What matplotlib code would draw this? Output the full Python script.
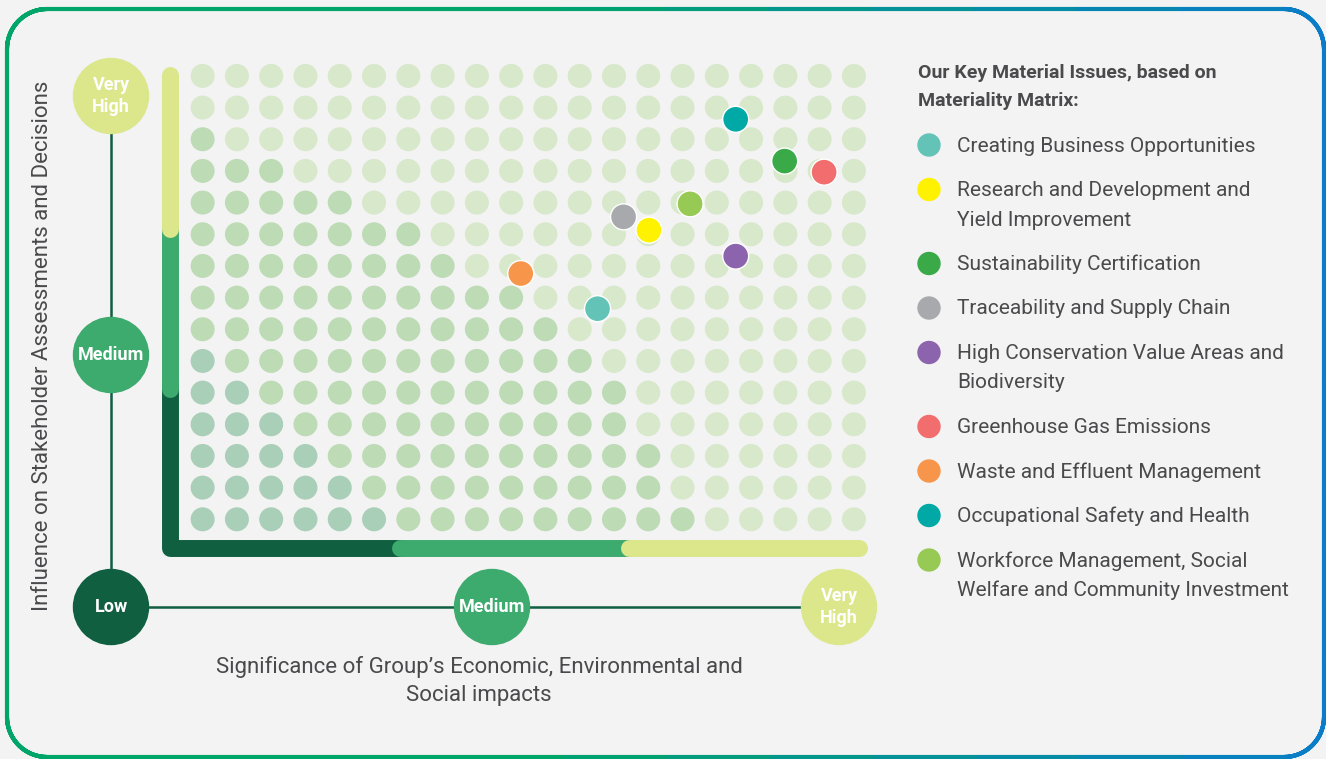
import numpy as np
import matplotlib
matplotlib.use('Agg')
import matplotlib.pyplot as plt
from matplotlib.patches import Circle
from matplotlib.collections import LineCollection
from matplotlib.colors import to_rgb

plt.rcParams['font.family'] = ['Roboto', 'DejaVu Sans']

# ---- data ----
# dot matrix: 20 columns x 15 rows, counts per row (top row first)
n_cols, n_rows = 20, 15
mid_counts  = [0, 0, 1, 3, 5, 7, 8, 10, 11, 12, 13, 13, 14, 14, 15]
dark_counts = [0, 0, 0, 0, 0, 0, 0, 0, 0, 1, 2, 3, 4, 5, 6]

issues = ['Creating Business Opportunities',
          'Research and Development and\nYield Improvement',
          'Sustainability Certification',
          'Traceability and Supply Chain',
          'High Conservation Value Areas and\nBiodiversity',
          'Greenhouse Gas Emissions',
          'Waste and Effluent Management',
          'Occupational Safety and Health',
          'Workforce Management, Social\nWelfare and Community Investment']
issue_colors = ['#62c3b6', '#fff200', '#3aaa48', '#a7a9ac', '#8c64ad',
                '#f26d6d', '#f7964a', '#00a9a5', '#97c955']
# significance (x, column units) and influence (y, row units from bottom)
significance = [11.52, 13.02, 16.98, 12.28, 15.55, 18.13, 9.28, 15.55, 14.22]
influence    = [6.65, 9.13, 11.31, 9.55, 8.31, 10.96, 7.76, 12.63, 9.96]

level_labels = ['Low', 'Medium', 'Very\nHigh']

# ---- colours ----
bg_col = '#f3f3f3'
txt = '#4a4a4c'
dark, mid, light = '#0f5f40', '#3daa6e', '#dce68b'
dot_light, dot_mid, dot_dark = '#d8e8cb', '#bddbb5', '#aacfb8'

W, H = 1326, 759
fig = plt.figure(figsize=(W / 100, H / 100), dpi=100)
fig.patch.set_facecolor(bg_col)

bg = fig.add_axes([0, 0, 1, 1])
bg.set_xlim(0, W)
bg.set_ylim(H, 0)
bg.axis('off')

# rounded frame with green -> blue gradient
def rounded_path(x0, y0, x1, y1, r):
    pts = []
    for cx, cy, a0 in [(x0 + r, y0 + r, 180), (x1 - r, y0 + r, 270),
                       (x1 - r, y1 - r, 0), (x0 + r, y1 - r, 90)]:
        t = np.radians(np.linspace(a0, a0 + 90, 20))
        pts += list(zip(cx + r * np.cos(t), cy + r * np.sin(t)))
    pts.append(pts[0])
    out = []
    for (xa, ya), (xb, yb) in zip(pts[:-1], pts[1:]):
        for s in np.linspace(0, 1, 12, endpoint=False):
            out.append((xa + (xb - xa) * s, ya + (yb - ya) * s))
    out.append(pts[0])
    return np.array(out)

p = rounded_path(7, 9, 1324, 757, 40)
segs, cols = [], []
g0, g1 = np.array(to_rgb('#00a56a')), np.array(to_rgb('#0a7cc9'))
for a, b in zip(p[:-1], p[1:]):
    mx_, my_ = (a + b) / 2
    if my_ > 750 and 648 < mx_ < 688:
        continue
    t = np.clip((mx_ - 550) / (W - 550), 0, 1)
    segs.append([a, b])
    cols.append((1 - t) * g0 + t * g1)
bg.add_collection(LineCollection(segs, colors=cols, linewidths=3.0, capstyle='round'))

# colored L bars
bw = 12.2
bg.plot([170, 170, 405], [380, 548, 548], color=dark, lw=bw,
        solid_joinstyle='round', solid_capstyle='butt')
bg.plot([170, 170], [225, 388.5], color=mid, lw=bw, solid_capstyle='round')
bg.plot([399.5, 630], [548, 548], color=mid, lw=bw, solid_capstyle='round')
bg.plot([170, 170], [74.5, 228.5], color=light, lw=bw, solid_capstyle='round')
bg.plot([628.5, 858.5], [548, 548], color=light, lw=bw, solid_capstyle='round')

# level scale lines and circles
bg.plot([111, 111], [96, 607], color=dark, lw=1.8, zorder=1)
bg.plot([111, 839], [607, 607], color=dark, lw=1.8, zorder=1)
level_cols = [dark, mid, light]
circle_pos = [[(111, 607)], [(111, 355), (492, 607)], [(111, 96), (839, 607)]]
for lab, c, pos in zip(level_labels, level_cols, circle_pos):
    for x, y in pos:
        bg.add_patch(Circle((x, y), 37.5, color=c, zorder=2))
        bg.text(x, y, lab, color='white', fontsize=13, fontweight='bold',
                ha='center', va='center', linespacing=1.35, zorder=3)

# axis titles
bg.text(43, 346, 'Influence on Stakeholder Assessments and Decisions',
        rotation=90, ha='center', va='center', fontsize=16, color=txt)
bg.text(479, 681, "Significance of Group\u2019s Economic, Environmental and\nSocial impacts",
        ha='center', va='center', fontsize=16, color=txt, linespacing=1.4)

# legend
bg.text(918, 73, 'Our Key Material Issues, based on', fontsize=14,
        fontweight='bold', color=txt, ha='left', va='center')
bg.text(918, 101, 'Materiality Matrix:', fontsize=14,
        fontweight='bold', color=txt, ha='left', va='center')
y = 146
for lab, c in zip(issues, issue_colors):
    bg.add_patch(Circle((929, y - 1), 11, color=c))
    for k, line in enumerate(lab.split('\n')):
        bg.text(957, y + 29.5 * k, line, fontsize=15, color=txt,
                ha='left', va='center')
    y += 44.5 + 29.5 * lab.count('\n')

# matrix axes (column / row units)
mx = fig.add_axes([161.5 / W, (H - 557.3) / H, 713 / W, 500.4 / H])
mx.set_xlim(-1.2, 19.6)
mx.set_ylim(-1.2, 14.6)
mx.axis('off')
mx.patch.set_alpha(0)

xs, ys, cs = [], [], []
for r in range(n_rows):
    for c in range(n_cols):
        xs.append(c)
        ys.append(n_rows - 1 - r)
        if c < dark_counts[r]:
            cs.append(dot_dark)
        elif c < mid_counts[r]:
            cs.append(dot_mid)
        else:
            cs.append(dot_light)
mx.scatter(xs, ys, s=(24 * 0.72) ** 2, c=cs, linewidths=0, zorder=1)
mx.scatter(significance, influence, s=(26 * 0.72) ** 2, c=issue_colors,
           edgecolors='white', linewidths=1.0, zorder=3)

fig.savefig('out.png', dpi=100, facecolor=fig.get_facecolor())
